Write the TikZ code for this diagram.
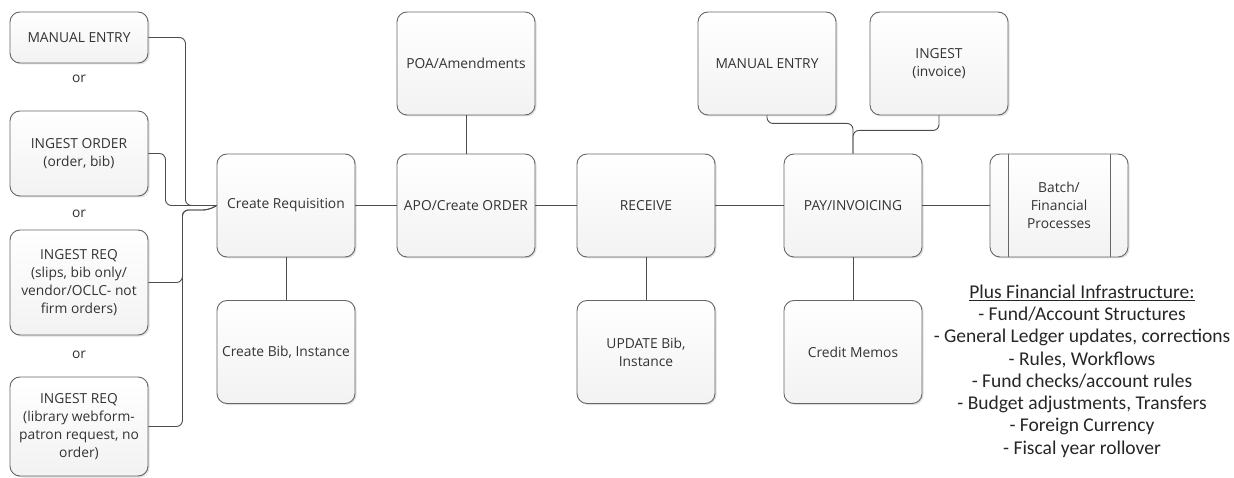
\documentclass[tikz,border=0pt]{standalone}
\usepackage{fontspec}
\setmainfont{Open Sans}
\newfontfamily\notefont{Carlito}
\usetikzlibrary{positioning,shadows}

\begin{document}
\begin{tikzpicture}[x=1pt,y=-1pt]
    \tikzstyle{box}=[rectangle,rounded corners=10pt,draw=black!60,line width=0.9pt,top color=white,bottom color=black!5,minimum width=138pt,minimum height=103pt,align=center,inner sep=2pt,text=black!80,font=\fontsize{13.8}{18}\selectfont,drop shadow={opacity=0.25,shadow xshift=1.5pt,shadow yshift=-1.5pt}]
    \tikzstyle{or}=[text=black!80,font=\fontsize{13.8}{18}\selectfont]
    \tikzstyle{conn}=[draw=black!70,line width=0.9pt]
    \tikzstyle{note}=[align=center,inner sep=0pt,text=black!85,font=\notefont\fontsize{19.5}{22.3}\selectfont]

    \useasboundingbox (0,0) rectangle (1234,478);

    % ways in
    \node[box,minimum height=51pt](entry) at (79,37.5){MANUAL ENTRY};
    \node[or](or1) at (79,79){or};
    \node[box,minimum height=85pt](ingorder) at (79,153.5){INGEST ORDER\\(order, bib)};
    \node[or](or2) at (79,214){or};
    \node[box,minimum height=105pt](ingreq) at (79,282.5){INGEST REQ\\(slips, bib only/\\vendor/OCLC- not\\firm orders)};
    \node[or](or3) at (79,355){or};
    \node[box,minimum height=99pt](ingpatron) at (79,426.5){INGEST REQ\\(library webform-\\patron request, no\\order)};

    % main row
    \node[box](req) at (286,205.5){Create Requisition};
    \node[box,right of=req,node distance=180pt](order){APO/Create ORDER};
    \node[box,right of=order,node distance=180pt](receive){RECEIVE};
    \node[box,right of=receive,node distance=207pt](pay){PAY/INVOICING};
    \node[box,right of=pay,node distance=206pt,
      path picture={
        \draw[black!60,line width=0.9pt] ([xshift=18pt]path picture bounding box.north west) -- ([xshift=18pt]path picture bounding box.south west);
        \draw[black!60,line width=0.9pt] ([xshift=-18pt]path picture bounding box.north east) -- ([xshift=-18pt]path picture bounding box.south east);
      }](batch){Batch/\\Financial\\Processes};

    % above and below
    \node[box,above of=order,node distance=142pt](amend){POA/Amendments};
    \node[box,above of=pay,node distance=142pt,xshift=-86pt](entry2){MANUAL ENTRY};
    \node[box,above of=pay,node distance=142pt,xshift=86pt](ingest){INGEST\\(invoice)};
    \node[box,below of=req,node distance=146.5pt](bib){Create Bib, Instance};
    \node[box,below of=receive,node distance=146.5pt](update){UPDATE Bib,\\Instance};
    \node[box,below of=pay,node distance=146.5pt](memos){Credit Memos};

    \node[note](infra) at (1082,371){\underline{Plus Financial Infrastructure:}\\
      - Fund/Account Structures\\
      - General Ledger updates, corrections\\
      - Rules, Workflows\\
      - Fund checks/account rules\\
      - Budget adjustments, Transfers\\
      - Foreign Currency\\
      - Fiscal year rollover};

    \path[conn]
    (req) edge (order)
    (order) edge (receive)
    (receive) edge (pay)
    (pay) edge (batch)
    (amend) edge (order)
    (req) edge (bib)
    (receive) edge (update)
    (pay) edge (memos);

    \coordinate (jog) at (209,210);
    \draw[conn,rounded corners=6pt] (entry.east) -- ++(37,0) |- (req.west);
    \draw[conn,rounded corners=6pt] (ingorder.east) -- ++(17,0) |- (req.west);
    \draw[conn,rounded corners=6pt] (ingreq.east) -- ++(34,0) |- (jog) -- (req.west);
    \draw[conn,rounded corners=6pt] (ingpatron.east) -- ++(34,0) |- (jog) -- (req.west);

    \draw[conn,rounded corners=6pt] (entry2.south) -- ++(0,8) -| (pay.north);
    \draw[conn,rounded corners=6pt] (ingest.south) -- ++(0,15) -| (pay.north);
\end{tikzpicture}
\end{document}
